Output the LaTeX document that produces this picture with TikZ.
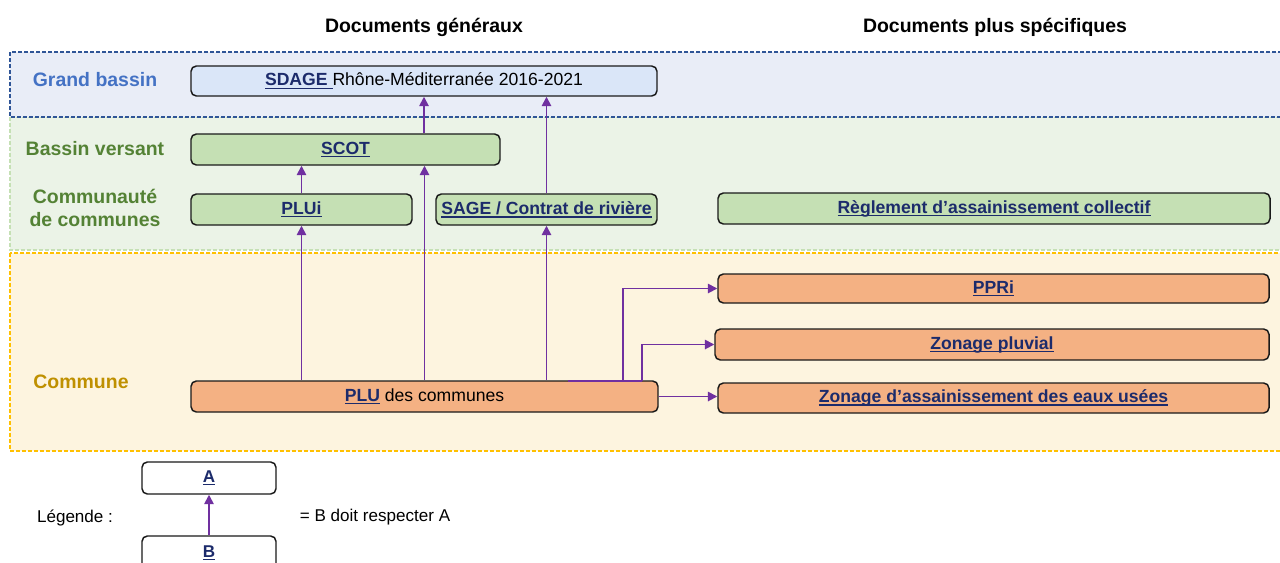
\documentclass[tikz,border=0pt]{standalone}
\usepackage{fontspec}
\setmainfont{Liberation Sans}
\usetikzlibrary{arrows.meta}

\definecolor{bandblue}{HTML}{E9EDF7}
\definecolor{bandblueline}{HTML}{2F5597}
\definecolor{bandgreen}{HTML}{EBF3E7}
\definecolor{bandgreenline}{HTML}{C5E0B4}
\definecolor{bandorange}{HTML}{FDF4DF}
\definecolor{bandorangeline}{HTML}{FFC000}
\definecolor{fillblue}{HTML}{DAE6F8}
\definecolor{fillgreen}{HTML}{C5E0B4}
\definecolor{fillorange}{HTML}{F4B183}
\definecolor{navy}{HTML}{1C2B6B}
\definecolor{purp}{HTML}{7030A0}
\definecolor{lblblue}{HTML}{4472C4}
\definecolor{lblgreen}{HTML}{548235}
\definecolor{lblgold}{HTML}{BF9000}
\definecolor{boxline}{HTML}{1A1A1A}

% underline drawn through the descenders, in the current colour
\newcommand\lien[1]{\setbox0\hbox{#1}\rlap{\rule[-2.4pt]{\wd0}{1pt}}\box0}
\newcommand\doc[1]{{\color{navy}\bfseries\lien{#1}}}

\begin{document}
\begin{tikzpicture}[x=0.75pt,y=-0.75pt,
  band/.style={line width=0.9pt, dash pattern=on 3pt off 1.5pt},
  docbox/.style={draw=boxline, line width=1.1pt, rounded corners=4pt,
    inner sep=0pt, font=\fontsize{13.2}{15}\selectfont},
  bluebox/.style={docbox, fill=fillblue},
  greenbox/.style={docbox, fill=fillgreen},
  orangebox/.style={docbox, fill=fillorange},
  whitebox/.style={docbox, fill=white, font=\fontsize{12.8}{15}\selectfont},
  header/.style={font=\fontsize{14.6}{17}\selectfont\bfseries},
  level/.style={font=\fontsize{14.6}{17.5}\selectfont\bfseries, align=center},
  plain/.style={font=\fontsize{12.8}{15}\selectfont},
  arr/.style={draw=purp, line width=1.3pt, -{Triangle[length=7pt,width=7pt]}},
  link/.style={draw=purp, line width=1.3pt}
]
\useasboundingbox (0,0) rectangle (1280,562);
\clip (0,0) rectangle (1280,562);
\fill[white] (0,0) rectangle (1280,562);

% territorial levels
\draw[band, draw=bandgreenline, fill=bandgreen] (10,117) rectangle (1292,250);
\draw[band, draw=bandblueline, fill=bandblue] (10,52) rectangle (1292,117);
\draw[band, draw=bandorangeline, fill=bandorange] (10,253) rectangle (1292,451);

% column headers
\node[header] (hgen) at (424,27) {Documents généraux};
\node[header] (hspec) at (995,27) {Documents plus spécifiques};

% level labels
\node[level, text=lblblue] (lgb) at (95,80) {Grand bassin};
\node[level, text=lblgreen] (lbv) at (95,149) {Bassin versant};
\node[level, text=lblgreen] (lcc) at (95,208) {Communauté\\de communes};
\node[level, text=lblgold] (lco) at (81,382) {Commune};

% documents
\node[bluebox, minimum width=349.5pt, minimum height=22.5pt] (sdage) at (424,81)
  {\doc{SDAGE\ }Rhône-Méditerranée 2016-2021};
\node[greenbox, minimum width=231.75pt, minimum height=23.25pt] (scot) at (345.5,149.5)
  {\doc{SCOT}};
\node[greenbox, minimum width=165.75pt, minimum height=23.25pt] (plui) at (301.5,209.5)
  {\doc{PLUi}};
\node[greenbox, minimum width=165.75pt, minimum height=23.25pt] (sage) at (546.5,209.5)
  {\doc{SAGE / Contrat de rivière}};
\node[greenbox, minimum width=414pt, minimum height=23.25pt] (regl) at (994,208.5)
  {\doc{Règlement d’assainissement collectif}};
\node[orangebox, minimum width=413.25pt, minimum height=21.75pt] (ppri) at (993.5,288.5)
  {\doc{PPRi}};
\node[orangebox, minimum width=415.5pt, minimum height=23.25pt] (zpluv) at (992,344.5)
  {\doc{Zonage pluvial}};
\node[orangebox, minimum width=413.25pt, minimum height=22.5pt] (zeu) at (993.5,398)
  {\doc{Zonage d’assainissement des eaux usées}};
\node[orangebox, minimum width=350.25pt, minimum height=23.25pt] (plu) at (424.5,396.5)
  {\doc{PLU} des communes};

% compatibility links
\draw[arr] (plu.north -| plui.south) -- (plui.south);
\draw[arr] (plui.north) -- (plui.north |- scot.south);
\draw[arr] (plu.north) -- (plu.north |- scot.south);
\draw[arr] (scot.north -| sdage.south) -- (sdage.south);
\draw[arr] (plu.north -| sage.south) -- (sage.south);
\draw[arr] (sage.north) -- (sage.north |- sdage.south);

\coordinate (j) at (568,381);
\coordinate (t1) at (623,381);
\coordinate (t2) at (642,381);
\draw[link] (j) -- (t2);
\draw[arr] (t1) |- (ppri.west);
\draw[arr] (t2) |- (zpluv.west);
\draw[arr] (plu.east) -- (plu.east -| zeu.west);

% legend
\node[whitebox, minimum width=100.5pt, minimum height=24pt] (la) at (209,478) {\doc{A}};
\node[whitebox, minimum width=100.5pt, minimum height=25.5pt] (lb) at (209,553) {\doc{B}};
\draw[arr] (lb.north) -- (la.south);
\node[plain] (leg) at (75,518) {Légende :};
\node[plain] (legtxt) at (375,517) {= B doit respecter A};
\end{tikzpicture}
\end{document}
